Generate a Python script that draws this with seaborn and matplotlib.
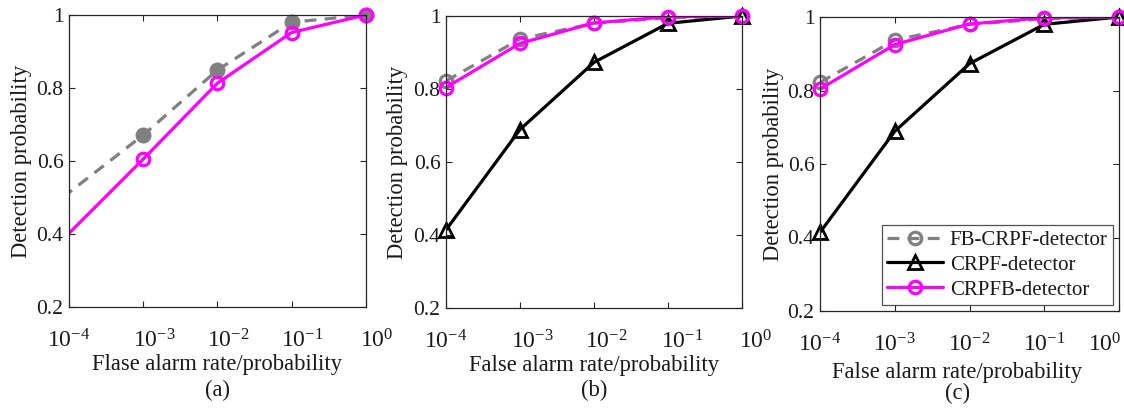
import numpy as np
import pandas as pd
import matplotlib
matplotlib.use('Agg')
import matplotlib.pyplot as plt
import matplotlib.transforms as mtransforms
import seaborn as sns
from matplotlib.lines import Line2D
from matplotlib.ticker import FixedLocator, NullLocator, FuncFormatter, LogFormatterSciNotation

# ---------------- data ----------------
far_a = [1e-5, 1e-3, 1e-2, 1e-1, 1e0]
fb_crpf_a = [0.356, 0.671, 0.849, 0.980, 1.000]
crpfb_a = [0.199, 0.605, 0.813, 0.952, 1.000]

far_bc = [1e-4, 1e-3, 1e-2, 1e-1, 1e0]
fb_crpf_bc = [0.822, 0.937, 0.980, 0.995, 1.000]
crpf_bc = [0.414, 0.689, 0.873, 0.980, 1.000]
crpfb_bc = [0.804, 0.925, 0.981, 0.998, 1.000]

xticks = [1e-4, 1e-3, 1e-2, 1e-1, 1e0]
yticks = [0.2, 0.4, 0.6, 0.8, 1.0]
xlabels = ["Flase alarm rate/probability", "False alarm rate/probability", "False alarm rate/probability"]
captions = ["(a)", "(b)", "(c)"]
legend_names = ["FB-CRPF-detector", "CRPF-detector", "CRPFB-detector"]

GRAY = "#808080"
MAG = "#FF00FF"
BLK = "#000000"
DASH = (3.7, 2.6)

sns.set_style("ticks")
plt.rcParams['font.family'] = ['Liberation Serif', 'DejaVu Serif']
plt.rcParams['mathtext.fontset'] = 'custom'
plt.rcParams['mathtext.rm'] = 'Liberation Serif'
plt.rcParams['mathtext.it'] = 'Liberation Serif:italic'
plt.rcParams['text.color'] = '#1a1a1a'
plt.rcParams['axes.labelcolor'] = '#1a1a1a'

fig = plt.figure(figsize=(11.24, 4.09), dpi=100)
W, H = 1124, 409
boxes = [(69, 15, 365.7, 307), (446, 16, 742, 308), (820, 17, 1119, 311)]
axes = []
for (l, t, r, b) in boxes:
    axes.append(fig.add_axes([l / W, 1 - b / H, (r - l) / W, (b - t) / H]))


def draw_series(ax, x, y, color, ls, marker, ms, mfc, mew):
    x = np.asarray(x); y = np.asarray(y)
    df = pd.DataFrame({"x": x, "y": y})
    kw = dict(dashes=DASH) if ls == '--' else dict(linestyle=ls)
    sns.lineplot(data=df, x="x", y="y", ax=ax, color=color, lw=2.3,
                 sort=False, estimator=None, clip_on=True, legend=False, **kw)
    m = (x >= 1e-4) & (x <= 1e0)
    sns.lineplot(data=df[m], x="x", y="y", ax=ax, color=color, linestyle='none',
                 marker=marker, markersize=ms, markerfacecolor=mfc,
                 markeredgecolor=color, markeredgewidth=mew,
                 sort=False, estimator=None, clip_on=False, legend=False)


ax = axes[0]
ax.set_xscale('log')
draw_series(ax, far_a, fb_crpf_a, GRAY, '--', 'o', 10, GRAY, 1.5)
draw_series(ax, far_a, crpfb_a, MAG, '-', 'o', 9, 'none', 2.3)

for ax in axes[1:]:
    ax.set_xscale('log')
    draw_series(ax, far_bc, fb_crpf_bc, GRAY, '--', 'o', 9, 'none', 2.3)
    draw_series(ax, far_bc, crpf_bc, BLK, '-', '^', 10, 'none', 2.0)
    draw_series(ax, far_bc, crpfb_bc, MAG, '-', 'o', 9, 'none', 2.3)

ylab_x = [-0.125, -0.13, -0.122]
xlab_pos = [(0.5, -0.162), (0.5, -0.162), (0.458, -0.172)]
cap_y = [390, 390, 393]
cap_x = [217, 594, 958]

for i, ax in enumerate(axes):
    ax.set_xlim(1e-4, 1e0)
    ax.set_ylim(0.2, 1.0)
    ax.xaxis.set_major_locator(FixedLocator(xticks))
    ax.xaxis.set_minor_locator(NullLocator())
    ax.xaxis.set_major_formatter(LogFormatterSciNotation())
    ax.yaxis.set_major_locator(FixedLocator(yticks))
    ax.yaxis.set_major_formatter(FuncFormatter(lambda v, p: f"{v:g}"))
    ax.tick_params(direction='in', length=4, width=0.8, top=True, right=True,
                   colors='#262626', labelcolor='#1a1a1a')
    ax.tick_params(axis='y', labelsize=15.5, pad=4)
    ax.tick_params(axis='x', labelsize=17, pad=16)
    for s in ax.spines.values():
        s.set_visible(True)
        s.set_color('#262626')
        s.set_linewidth(0.9)
    ax.set_xlabel(xlabels[i], fontsize=16.3)
    ax.set_ylabel("Detection probability", fontsize=16.3)
    ax.yaxis.set_label_coords(ylab_x[i], 0.5)
    ax.xaxis.set_label_coords(*xlab_pos[i])
    fig.text(cap_x[i] / W, 1 - cap_y[i] / H, captions[i], ha='center', va='center', fontsize=16.3)

handles = [
    Line2D([], [], color=GRAY, dashes=DASH, lw=2.3, marker='o', ms=9, mfc='none', mec=GRAY, mew=2.3),
    Line2D([], [], color=BLK, ls='-', lw=2.3, marker='^', ms=10, mfc='none', mec=BLK, mew=2.0),
    Line2D([], [], color=MAG, ls='-', lw=2.3, marker='o', ms=9, mfc='none', mec=MAG, mew=2.3),
]
leg = axes[2].legend(handles, legend_names, loc='lower right', fontsize=15,
                     frameon=True, fancybox=False, edgecolor='#262626',
                     handlelength=2.7, handletextpad=0.3, borderpad=0.25,
                     labelspacing=0.25, borderaxespad=0.3)
leg.get_frame().set_linewidth(0.9)

fig.canvas.draw()
nudges = [[0, 11, 11, 11, 11], [0, 12, 12, 14, 14], [0, 0, 0, 0, -14]]
for ax, nd in zip(axes, nudges):
    for lab, dx in zip(ax.get_xticklabels(), nd):
        if dx:
            off = mtransforms.ScaledTranslation(dx / 100.0, 0, fig.dpi_scale_trans)
            lab.set_transform(lab.get_transform() + off)

fig.savefig("out.png", dpi=100)
